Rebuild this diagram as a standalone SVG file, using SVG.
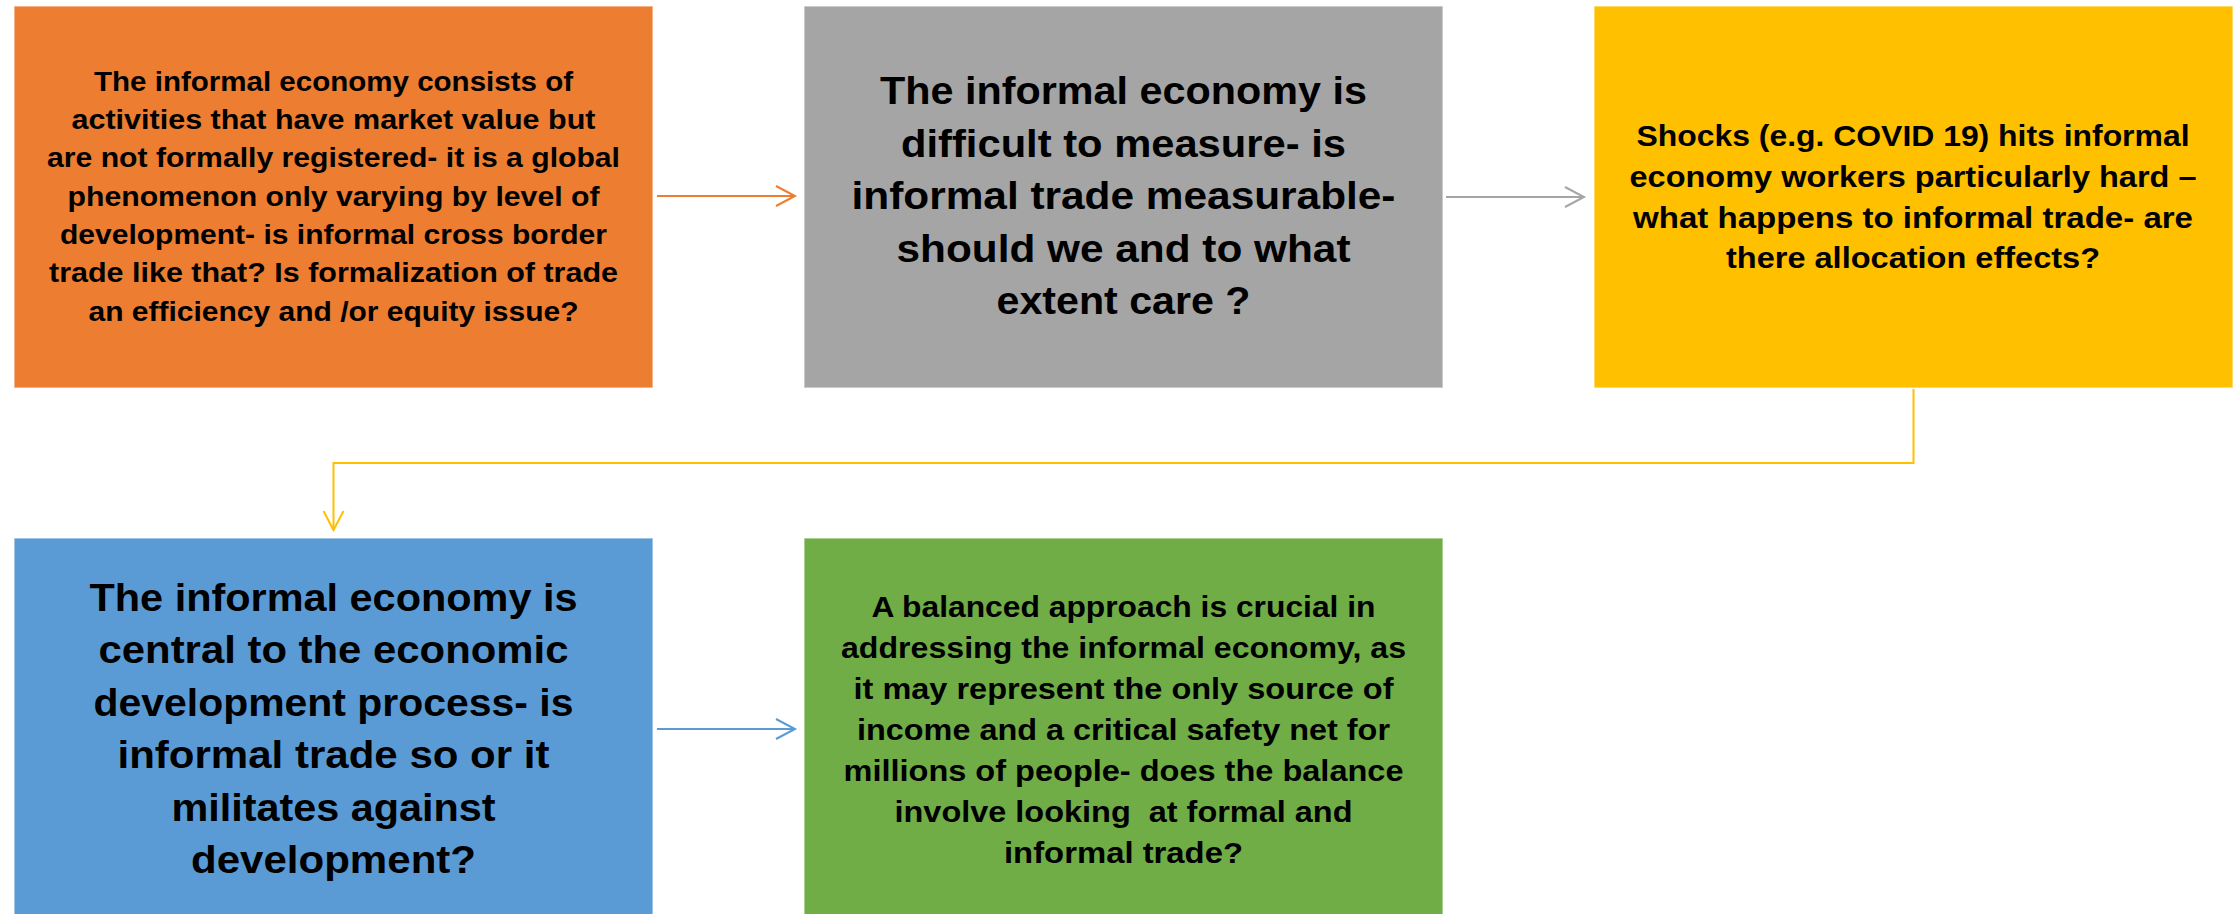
<svg xmlns="http://www.w3.org/2000/svg" width="2239" height="914" viewBox="0 0 2239 914">
<style>
.box{stroke:#ffffff;stroke-opacity:0.55;stroke-width:1.5}
.t{font-family:"Liberation Sans",Arial,sans-serif;font-weight:bold;fill:#000;text-anchor:middle;white-space:pre}
.s28{font-size:28.5px}
.s30{font-size:30px}
.s39{font-size:39px}
.c{fill:none;stroke-width:2}
</style>
<defs>
<marker id="aO" markerUnits="userSpaceOnUse" markerWidth="24" markerHeight="24" viewBox="0 0 24 24" refX="21" refY="12" orient="auto"><path d="M2,2 L21,12 L2,22" fill="none" stroke="#ED7D31" stroke-width="2"/></marker>
<marker id="aG" markerUnits="userSpaceOnUse" markerWidth="24" markerHeight="24" viewBox="0 0 24 24" refX="21" refY="12" orient="auto"><path d="M2,2 L21,12 L2,22" fill="none" stroke="#A5A5A5" stroke-width="2"/></marker>
<marker id="aY" markerUnits="userSpaceOnUse" markerWidth="24" markerHeight="24" viewBox="0 0 24 24" refX="21" refY="12" orient="auto"><path d="M2,2 L21,12 L2,22" fill="none" stroke="#FFC000" stroke-width="2"/></marker>
<marker id="aB" markerUnits="userSpaceOnUse" markerWidth="24" markerHeight="24" viewBox="0 0 24 24" refX="21" refY="12" orient="auto"><path d="M2,2 L21,12 L2,22" fill="none" stroke="#5B9BD5" stroke-width="2"/></marker>
</defs>
<rect width="2239" height="914" fill="#ffffff"/>

<g id="connectors">
<path class="c" d="M657,196 L795,196" stroke="#ED7D31" marker-end="url(#aO)"/>
<path class="c" d="M1446,197 L1584,197" stroke="#A5A5A5" marker-end="url(#aG)"/>
<path class="c" d="M1913.5,389 L1913.5,463 L333.5,463 L333.5,530" stroke="#FFC000" marker-end="url(#aY)"/>
<path class="c" d="M657,729 L795,729" stroke="#5B9BD5" marker-end="url(#aB)"/>
</g>

<g id="node-orange">
<rect class="box" x="14" y="6" width="639" height="382" fill="#ED7D31"/>
<text class="t s28" x="333.5" y="90.7" textLength="479" lengthAdjust="spacingAndGlyphs">The informal economy consists of</text>
<text class="t s28" x="333.5" y="129" textLength="524" lengthAdjust="spacingAndGlyphs">activities that have market value but</text>
<text class="t s28" x="333.5" y="167.3" textLength="573" lengthAdjust="spacingAndGlyphs">are not formally registered- it is a global</text>
<text class="t s28" x="333.5" y="205.7" textLength="532" lengthAdjust="spacingAndGlyphs">phenomenon only varying by level of</text>
<text class="t s28" x="333.5" y="244" textLength="547" lengthAdjust="spacingAndGlyphs">development- is informal cross border</text>
<text class="t s28" x="333.5" y="282.3" textLength="569" lengthAdjust="spacingAndGlyphs">trade like that? Is formalization of trade</text>
<text class="t s28" x="333.5" y="320.7" textLength="490" lengthAdjust="spacingAndGlyphs">an efficiency and /or equity issue?</text>
</g>

<g id="node-gray">
<rect class="box" x="804" y="6" width="639" height="382" fill="#A5A5A5"/>
<text class="t s39" x="1123.5" y="104" textLength="487" lengthAdjust="spacingAndGlyphs">The informal economy is</text>
<text class="t s39" x="1123.5" y="156.7" textLength="445" lengthAdjust="spacingAndGlyphs">difficult to measure- is</text>
<text class="t s39" x="1123.5" y="209.3" textLength="544" lengthAdjust="spacingAndGlyphs">informal trade measurable-</text>
<text class="t s39" x="1123.5" y="261.7" textLength="454" lengthAdjust="spacingAndGlyphs">should we and to what</text>
<text class="t s39" x="1123.5" y="314.3" textLength="254" lengthAdjust="spacingAndGlyphs">extent care ?</text>
</g>

<g id="node-yellow">
<rect class="box" x="1594" y="6" width="639" height="382" fill="#FFC000"/>
<text class="t s30" x="1913" y="145.7" textLength="553" lengthAdjust="spacingAndGlyphs">Shocks (e.g. COVID 19) hits informal</text>
<text class="t s30" x="1913" y="186.6" textLength="567" lengthAdjust="spacingAndGlyphs">economy workers particularly hard –</text>
<text class="t s30" x="1913" y="227.5" textLength="560" lengthAdjust="spacingAndGlyphs">what happens to informal trade- are</text>
<text class="t s30" x="1913" y="268.4" textLength="374" lengthAdjust="spacingAndGlyphs">there allocation effects?</text>
</g>

<g id="node-blue">
<rect class="box" x="14" y="538" width="639" height="382" fill="#5B9BD5"/>
<text class="t s39" x="333.5" y="610.7" textLength="488" lengthAdjust="spacingAndGlyphs">The informal economy is</text>
<text class="t s39" x="333.5" y="663.3" textLength="470" lengthAdjust="spacingAndGlyphs">central to the economic</text>
<text class="t s39" x="333.5" y="715.5" textLength="480" lengthAdjust="spacingAndGlyphs">development process- is</text>
<text class="t s39" x="333.5" y="768" textLength="432" lengthAdjust="spacingAndGlyphs">informal trade so or it</text>
<text class="t s39" x="333.5" y="820.5" textLength="324" lengthAdjust="spacingAndGlyphs">militates against</text>
<text class="t s39" x="333.5" y="873" textLength="285" lengthAdjust="spacingAndGlyphs">development?</text>
</g>

<g id="node-green">
<rect class="box" x="804" y="538" width="639" height="382" fill="#70AD47"/>
<text class="t s30" x="1123.5" y="616.7" textLength="504" lengthAdjust="spacingAndGlyphs">A balanced approach is crucial in</text>
<text class="t s30" x="1123.5" y="657.8" textLength="565" lengthAdjust="spacingAndGlyphs">addressing the informal economy, as</text>
<text class="t s30" x="1123.5" y="698.9" textLength="540" lengthAdjust="spacingAndGlyphs">it may represent the only source of</text>
<text class="t s30" x="1123.5" y="740" textLength="533" lengthAdjust="spacingAndGlyphs">income and a critical safety net for</text>
<text class="t s30" x="1123.5" y="781.1" textLength="560" lengthAdjust="spacingAndGlyphs">millions of people- does the balance</text>
<text class="t s30" x="1123.5" y="822.2" textLength="458" lengthAdjust="spacingAndGlyphs">involve looking  at formal and</text>
<text class="t s30" x="1123.5" y="863.3" textLength="239" lengthAdjust="spacingAndGlyphs">informal trade?</text>
</g>
</svg>
